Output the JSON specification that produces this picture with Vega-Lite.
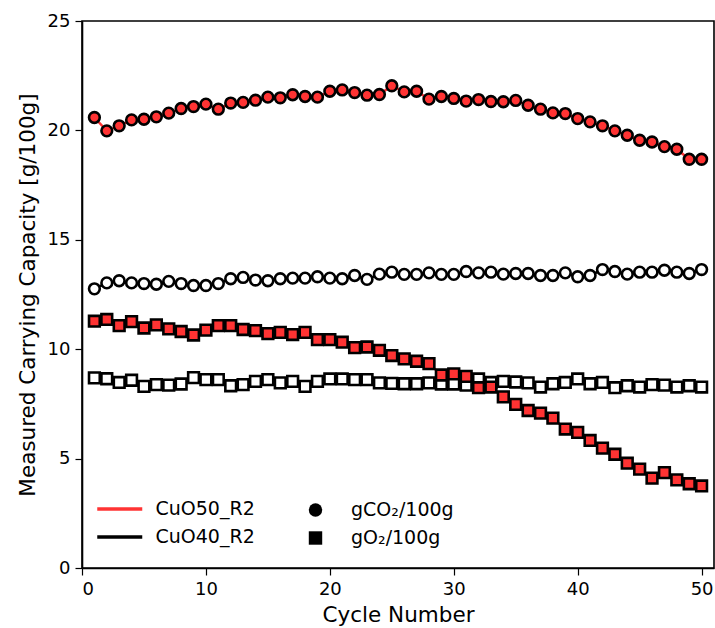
{
  "$schema": "https://vega.github.io/schema/vega-lite/v6.json",
  "width": 632,
  "height": 547,
  "autosize": {"type": "none"},
  "padding": {"left": 82, "top": 21, "right": 1, "bottom": 60},
  "background": "white",
  "config": {
    "view": {"stroke": "black", "strokeWidth": 1.6},
    "font": "DejaVu Sans",
    "axis": {
      "grid": false,
      "domainColor": "black",
      "domainWidth": 1.6,
      "tickColor": "black",
      "tickWidth": 1.2,
      "tickSize": 7,
      "labelFont": "DejaVu Sans",
      "labelFontSize": 18,
      "labelColor": "black",
      "labelPadding": 5,
      "titleFont": "DejaVu Sans",
      "titleFontSize": 21.5,
      "titleFontWeight": "normal",
      "titleColor": "black"
    },
    "legend": {
      "labelFont": "DejaVu Sans",
      "labelFontSize": 19,
      "labelColor": "black"
    }
  },
  "data": {
    "values": [
      {"cycle": 1, "value": 12.76, "sample": "CuO40_R2", "metric": "gCO₂/100g"},
      {"cycle": 2, "value": 13.03, "sample": "CuO40_R2", "metric": "gCO₂/100g"},
      {"cycle": 3, "value": 13.13, "sample": "CuO40_R2", "metric": "gCO₂/100g"},
      {"cycle": 4, "value": 13.03, "sample": "CuO40_R2", "metric": "gCO₂/100g"},
      {"cycle": 5, "value": 13.0, "sample": "CuO40_R2", "metric": "gCO₂/100g"},
      {"cycle": 6, "value": 12.97, "sample": "CuO40_R2", "metric": "gCO₂/100g"},
      {"cycle": 7, "value": 13.1, "sample": "CuO40_R2", "metric": "gCO₂/100g"},
      {"cycle": 8, "value": 13.0, "sample": "CuO40_R2", "metric": "gCO₂/100g"},
      {"cycle": 9, "value": 12.91, "sample": "CuO40_R2", "metric": "gCO₂/100g"},
      {"cycle": 10, "value": 12.91, "sample": "CuO40_R2", "metric": "gCO₂/100g"},
      {"cycle": 11, "value": 13.0, "sample": "CuO40_R2", "metric": "gCO₂/100g"},
      {"cycle": 12, "value": 13.22, "sample": "CuO40_R2", "metric": "gCO₂/100g"},
      {"cycle": 13, "value": 13.28, "sample": "CuO40_R2", "metric": "gCO₂/100g"},
      {"cycle": 14, "value": 13.16, "sample": "CuO40_R2", "metric": "gCO₂/100g"},
      {"cycle": 15, "value": 13.13, "sample": "CuO40_R2", "metric": "gCO₂/100g"},
      {"cycle": 16, "value": 13.22, "sample": "CuO40_R2", "metric": "gCO₂/100g"},
      {"cycle": 17, "value": 13.25, "sample": "CuO40_R2", "metric": "gCO₂/100g"},
      {"cycle": 18, "value": 13.25, "sample": "CuO40_R2", "metric": "gCO₂/100g"},
      {"cycle": 19, "value": 13.31, "sample": "CuO40_R2", "metric": "gCO₂/100g"},
      {"cycle": 20, "value": 13.25, "sample": "CuO40_R2", "metric": "gCO₂/100g"},
      {"cycle": 21, "value": 13.22, "sample": "CuO40_R2", "metric": "gCO₂/100g"},
      {"cycle": 22, "value": 13.37, "sample": "CuO40_R2", "metric": "gCO₂/100g"},
      {"cycle": 23, "value": 13.19, "sample": "CuO40_R2", "metric": "gCO₂/100g"},
      {"cycle": 24, "value": 13.43, "sample": "CuO40_R2", "metric": "gCO₂/100g"},
      {"cycle": 25, "value": 13.52, "sample": "CuO40_R2", "metric": "gCO₂/100g"},
      {"cycle": 26, "value": 13.42, "sample": "CuO40_R2", "metric": "gCO₂/100g"},
      {"cycle": 27, "value": 13.42, "sample": "CuO40_R2", "metric": "gCO₂/100g"},
      {"cycle": 28, "value": 13.49, "sample": "CuO40_R2", "metric": "gCO₂/100g"},
      {"cycle": 29, "value": 13.42, "sample": "CuO40_R2", "metric": "gCO₂/100g"},
      {"cycle": 30, "value": 13.42, "sample": "CuO40_R2", "metric": "gCO₂/100g"},
      {"cycle": 31, "value": 13.55, "sample": "CuO40_R2", "metric": "gCO₂/100g"},
      {"cycle": 32, "value": 13.49, "sample": "CuO40_R2", "metric": "gCO₂/100g"},
      {"cycle": 33, "value": 13.52, "sample": "CuO40_R2", "metric": "gCO₂/100g"},
      {"cycle": 34, "value": 13.43, "sample": "CuO40_R2", "metric": "gCO₂/100g"},
      {"cycle": 35, "value": 13.46, "sample": "CuO40_R2", "metric": "gCO₂/100g"},
      {"cycle": 36, "value": 13.46, "sample": "CuO40_R2", "metric": "gCO₂/100g"},
      {"cycle": 37, "value": 13.37, "sample": "CuO40_R2", "metric": "gCO₂/100g"},
      {"cycle": 38, "value": 13.37, "sample": "CuO40_R2", "metric": "gCO₂/100g"},
      {"cycle": 39, "value": 13.49, "sample": "CuO40_R2", "metric": "gCO₂/100g"},
      {"cycle": 40, "value": 13.31, "sample": "CuO40_R2", "metric": "gCO₂/100g"},
      {"cycle": 41, "value": 13.37, "sample": "CuO40_R2", "metric": "gCO₂/100g"},
      {"cycle": 42, "value": 13.64, "sample": "CuO40_R2", "metric": "gCO₂/100g"},
      {"cycle": 43, "value": 13.55, "sample": "CuO40_R2", "metric": "gCO₂/100g"},
      {"cycle": 44, "value": 13.43, "sample": "CuO40_R2", "metric": "gCO₂/100g"},
      {"cycle": 45, "value": 13.52, "sample": "CuO40_R2", "metric": "gCO₂/100g"},
      {"cycle": 46, "value": 13.52, "sample": "CuO40_R2", "metric": "gCO₂/100g"},
      {"cycle": 47, "value": 13.61, "sample": "CuO40_R2", "metric": "gCO₂/100g"},
      {"cycle": 48, "value": 13.52, "sample": "CuO40_R2", "metric": "gCO₂/100g"},
      {"cycle": 49, "value": 13.46, "sample": "CuO40_R2", "metric": "gCO₂/100g"},
      {"cycle": 50, "value": 13.64, "sample": "CuO40_R2", "metric": "gCO₂/100g"},
      {"cycle": 1, "value": 8.69, "sample": "CuO40_R2", "metric": "gO₂/100g"},
      {"cycle": 2, "value": 8.65, "sample": "CuO40_R2", "metric": "gO₂/100g"},
      {"cycle": 3, "value": 8.48, "sample": "CuO40_R2", "metric": "gO₂/100g"},
      {"cycle": 4, "value": 8.58, "sample": "CuO40_R2", "metric": "gO₂/100g"},
      {"cycle": 5, "value": 8.3, "sample": "CuO40_R2", "metric": "gO₂/100g"},
      {"cycle": 6, "value": 8.38, "sample": "CuO40_R2", "metric": "gO₂/100g"},
      {"cycle": 7, "value": 8.36, "sample": "CuO40_R2", "metric": "gO₂/100g"},
      {"cycle": 8, "value": 8.41, "sample": "CuO40_R2", "metric": "gO₂/100g"},
      {"cycle": 9, "value": 8.7, "sample": "CuO40_R2", "metric": "gO₂/100g"},
      {"cycle": 10, "value": 8.61, "sample": "CuO40_R2", "metric": "gO₂/100g"},
      {"cycle": 11, "value": 8.61, "sample": "CuO40_R2", "metric": "gO₂/100g"},
      {"cycle": 12, "value": 8.33, "sample": "CuO40_R2", "metric": "gO₂/100g"},
      {"cycle": 13, "value": 8.38, "sample": "CuO40_R2", "metric": "gO₂/100g"},
      {"cycle": 14, "value": 8.53, "sample": "CuO40_R2", "metric": "gO₂/100g"},
      {"cycle": 15, "value": 8.61, "sample": "CuO40_R2", "metric": "gO₂/100g"},
      {"cycle": 16, "value": 8.46, "sample": "CuO40_R2", "metric": "gO₂/100g"},
      {"cycle": 17, "value": 8.53, "sample": "CuO40_R2", "metric": "gO₂/100g"},
      {"cycle": 18, "value": 8.3, "sample": "CuO40_R2", "metric": "gO₂/100g"},
      {"cycle": 19, "value": 8.53, "sample": "CuO40_R2", "metric": "gO₂/100g"},
      {"cycle": 20, "value": 8.64, "sample": "CuO40_R2", "metric": "gO₂/100g"},
      {"cycle": 21, "value": 8.64, "sample": "CuO40_R2", "metric": "gO₂/100g"},
      {"cycle": 22, "value": 8.61, "sample": "CuO40_R2", "metric": "gO₂/100g"},
      {"cycle": 23, "value": 8.61, "sample": "CuO40_R2", "metric": "gO₂/100g"},
      {"cycle": 24, "value": 8.46, "sample": "CuO40_R2", "metric": "gO₂/100g"},
      {"cycle": 25, "value": 8.44, "sample": "CuO40_R2", "metric": "gO₂/100g"},
      {"cycle": 26, "value": 8.42, "sample": "CuO40_R2", "metric": "gO₂/100g"},
      {"cycle": 27, "value": 8.42, "sample": "CuO40_R2", "metric": "gO₂/100g"},
      {"cycle": 28, "value": 8.46, "sample": "CuO40_R2", "metric": "gO₂/100g"},
      {"cycle": 29, "value": 8.41, "sample": "CuO40_R2", "metric": "gO₂/100g"},
      {"cycle": 30, "value": 8.41, "sample": "CuO40_R2", "metric": "gO₂/100g"},
      {"cycle": 31, "value": 8.36, "sample": "CuO40_R2", "metric": "gO₂/100g"},
      {"cycle": 32, "value": 8.64, "sample": "CuO40_R2", "metric": "gO₂/100g"},
      {"cycle": 33, "value": 8.48, "sample": "CuO40_R2", "metric": "gO₂/100g"},
      {"cycle": 34, "value": 8.53, "sample": "CuO40_R2", "metric": "gO₂/100g"},
      {"cycle": 35, "value": 8.5, "sample": "CuO40_R2", "metric": "gO₂/100g"},
      {"cycle": 36, "value": 8.46, "sample": "CuO40_R2", "metric": "gO₂/100g"},
      {"cycle": 37, "value": 8.27, "sample": "CuO40_R2", "metric": "gO₂/100g"},
      {"cycle": 38, "value": 8.42, "sample": "CuO40_R2", "metric": "gO₂/100g"},
      {"cycle": 39, "value": 8.48, "sample": "CuO40_R2", "metric": "gO₂/100g"},
      {"cycle": 40, "value": 8.64, "sample": "CuO40_R2", "metric": "gO₂/100g"},
      {"cycle": 41, "value": 8.42, "sample": "CuO40_R2", "metric": "gO₂/100g"},
      {"cycle": 42, "value": 8.48, "sample": "CuO40_R2", "metric": "gO₂/100g"},
      {"cycle": 43, "value": 8.24, "sample": "CuO40_R2", "metric": "gO₂/100g"},
      {"cycle": 44, "value": 8.33, "sample": "CuO40_R2", "metric": "gO₂/100g"},
      {"cycle": 45, "value": 8.27, "sample": "CuO40_R2", "metric": "gO₂/100g"},
      {"cycle": 46, "value": 8.38, "sample": "CuO40_R2", "metric": "gO₂/100g"},
      {"cycle": 47, "value": 8.36, "sample": "CuO40_R2", "metric": "gO₂/100g"},
      {"cycle": 48, "value": 8.27, "sample": "CuO40_R2", "metric": "gO₂/100g"},
      {"cycle": 49, "value": 8.33, "sample": "CuO40_R2", "metric": "gO₂/100g"},
      {"cycle": 50, "value": 8.27, "sample": "CuO40_R2", "metric": "gO₂/100g"},
      {"cycle": 1, "value": 20.59, "sample": "CuO50_R2", "metric": "gCO₂/100g"},
      {"cycle": 2, "value": 19.98, "sample": "CuO50_R2", "metric": "gCO₂/100g"},
      {"cycle": 3, "value": 20.21, "sample": "CuO50_R2", "metric": "gCO₂/100g"},
      {"cycle": 4, "value": 20.48, "sample": "CuO50_R2", "metric": "gCO₂/100g"},
      {"cycle": 5, "value": 20.51, "sample": "CuO50_R2", "metric": "gCO₂/100g"},
      {"cycle": 6, "value": 20.62, "sample": "CuO50_R2", "metric": "gCO₂/100g"},
      {"cycle": 7, "value": 20.79, "sample": "CuO50_R2", "metric": "gCO₂/100g"},
      {"cycle": 8, "value": 21.0, "sample": "CuO50_R2", "metric": "gCO₂/100g"},
      {"cycle": 9, "value": 21.09, "sample": "CuO50_R2", "metric": "gCO₂/100g"},
      {"cycle": 10, "value": 21.2, "sample": "CuO50_R2", "metric": "gCO₂/100g"},
      {"cycle": 11, "value": 20.97, "sample": "CuO50_R2", "metric": "gCO₂/100g"},
      {"cycle": 12, "value": 21.25, "sample": "CuO50_R2", "metric": "gCO₂/100g"},
      {"cycle": 13, "value": 21.28, "sample": "CuO50_R2", "metric": "gCO₂/100g"},
      {"cycle": 14, "value": 21.38, "sample": "CuO50_R2", "metric": "gCO₂/100g"},
      {"cycle": 15, "value": 21.52, "sample": "CuO50_R2", "metric": "gCO₂/100g"},
      {"cycle": 16, "value": 21.49, "sample": "CuO50_R2", "metric": "gCO₂/100g"},
      {"cycle": 17, "value": 21.63, "sample": "CuO50_R2", "metric": "gCO₂/100g"},
      {"cycle": 18, "value": 21.55, "sample": "CuO50_R2", "metric": "gCO₂/100g"},
      {"cycle": 19, "value": 21.52, "sample": "CuO50_R2", "metric": "gCO₂/100g"},
      {"cycle": 20, "value": 21.79, "sample": "CuO50_R2", "metric": "gCO₂/100g"},
      {"cycle": 21, "value": 21.85, "sample": "CuO50_R2", "metric": "gCO₂/100g"},
      {"cycle": 22, "value": 21.73, "sample": "CuO50_R2", "metric": "gCO₂/100g"},
      {"cycle": 23, "value": 21.61, "sample": "CuO50_R2", "metric": "gCO₂/100g"},
      {"cycle": 24, "value": 21.64, "sample": "CuO50_R2", "metric": "gCO₂/100g"},
      {"cycle": 25, "value": 22.04, "sample": "CuO50_R2", "metric": "gCO₂/100g"},
      {"cycle": 26, "value": 21.76, "sample": "CuO50_R2", "metric": "gCO₂/100g"},
      {"cycle": 27, "value": 21.79, "sample": "CuO50_R2", "metric": "gCO₂/100g"},
      {"cycle": 28, "value": 21.43, "sample": "CuO50_R2", "metric": "gCO₂/100g"},
      {"cycle": 29, "value": 21.55, "sample": "CuO50_R2", "metric": "gCO₂/100g"},
      {"cycle": 30, "value": 21.46, "sample": "CuO50_R2", "metric": "gCO₂/100g"},
      {"cycle": 31, "value": 21.34, "sample": "CuO50_R2", "metric": "gCO₂/100g"},
      {"cycle": 32, "value": 21.41, "sample": "CuO50_R2", "metric": "gCO₂/100g"},
      {"cycle": 33, "value": 21.32, "sample": "CuO50_R2", "metric": "gCO₂/100g"},
      {"cycle": 34, "value": 21.31, "sample": "CuO50_R2", "metric": "gCO₂/100g"},
      {"cycle": 35, "value": 21.37, "sample": "CuO50_R2", "metric": "gCO₂/100g"},
      {"cycle": 36, "value": 21.15, "sample": "CuO50_R2", "metric": "gCO₂/100g"},
      {"cycle": 37, "value": 20.97, "sample": "CuO50_R2", "metric": "gCO₂/100g"},
      {"cycle": 38, "value": 20.8, "sample": "CuO50_R2", "metric": "gCO₂/100g"},
      {"cycle": 39, "value": 20.77, "sample": "CuO50_R2", "metric": "gCO₂/100g"},
      {"cycle": 40, "value": 20.54, "sample": "CuO50_R2", "metric": "gCO₂/100g"},
      {"cycle": 41, "value": 20.39, "sample": "CuO50_R2", "metric": "gCO₂/100g"},
      {"cycle": 42, "value": 20.21, "sample": "CuO50_R2", "metric": "gCO₂/100g"},
      {"cycle": 43, "value": 19.98, "sample": "CuO50_R2", "metric": "gCO₂/100g"},
      {"cycle": 44, "value": 19.78, "sample": "CuO50_R2", "metric": "gCO₂/100g"},
      {"cycle": 45, "value": 19.55, "sample": "CuO50_R2", "metric": "gCO₂/100g"},
      {"cycle": 46, "value": 19.47, "sample": "CuO50_R2", "metric": "gCO₂/100g"},
      {"cycle": 47, "value": 19.26, "sample": "CuO50_R2", "metric": "gCO₂/100g"},
      {"cycle": 48, "value": 19.14, "sample": "CuO50_R2", "metric": "gCO₂/100g"},
      {"cycle": 49, "value": 18.68, "sample": "CuO50_R2", "metric": "gCO₂/100g"},
      {"cycle": 50, "value": 18.68, "sample": "CuO50_R2", "metric": "gCO₂/100g"},
      {"cycle": 1, "value": 11.28, "sample": "CuO50_R2", "metric": "gO₂/100g"},
      {"cycle": 2, "value": 11.36, "sample": "CuO50_R2", "metric": "gO₂/100g"},
      {"cycle": 3, "value": 11.08, "sample": "CuO50_R2", "metric": "gO₂/100g"},
      {"cycle": 4, "value": 11.26, "sample": "CuO50_R2", "metric": "gO₂/100g"},
      {"cycle": 5, "value": 10.97, "sample": "CuO50_R2", "metric": "gO₂/100g"},
      {"cycle": 6, "value": 11.11, "sample": "CuO50_R2", "metric": "gO₂/100g"},
      {"cycle": 7, "value": 10.93, "sample": "CuO50_R2", "metric": "gO₂/100g"},
      {"cycle": 8, "value": 10.81, "sample": "CuO50_R2", "metric": "gO₂/100g"},
      {"cycle": 9, "value": 10.65, "sample": "CuO50_R2", "metric": "gO₂/100g"},
      {"cycle": 10, "value": 10.87, "sample": "CuO50_R2", "metric": "gO₂/100g"},
      {"cycle": 11, "value": 11.08, "sample": "CuO50_R2", "metric": "gO₂/100g"},
      {"cycle": 12, "value": 11.08, "sample": "CuO50_R2", "metric": "gO₂/100g"},
      {"cycle": 13, "value": 10.9, "sample": "CuO50_R2", "metric": "gO₂/100g"},
      {"cycle": 14, "value": 10.85, "sample": "CuO50_R2", "metric": "gO₂/100g"},
      {"cycle": 15, "value": 10.71, "sample": "CuO50_R2", "metric": "gO₂/100g"},
      {"cycle": 16, "value": 10.77, "sample": "CuO50_R2", "metric": "gO₂/100g"},
      {"cycle": 17, "value": 10.67, "sample": "CuO50_R2", "metric": "gO₂/100g"},
      {"cycle": 18, "value": 10.77, "sample": "CuO50_R2", "metric": "gO₂/100g"},
      {"cycle": 19, "value": 10.44, "sample": "CuO50_R2", "metric": "gO₂/100g"},
      {"cycle": 20, "value": 10.44, "sample": "CuO50_R2", "metric": "gO₂/100g"},
      {"cycle": 21, "value": 10.32, "sample": "CuO50_R2", "metric": "gO₂/100g"},
      {"cycle": 22, "value": 10.07, "sample": "CuO50_R2", "metric": "gO₂/100g"},
      {"cycle": 23, "value": 10.1, "sample": "CuO50_R2", "metric": "gO₂/100g"},
      {"cycle": 24, "value": 9.95, "sample": "CuO50_R2", "metric": "gO₂/100g"},
      {"cycle": 25, "value": 9.71, "sample": "CuO50_R2", "metric": "gO₂/100g"},
      {"cycle": 26, "value": 9.56, "sample": "CuO50_R2", "metric": "gO₂/100g"},
      {"cycle": 27, "value": 9.45, "sample": "CuO50_R2", "metric": "gO₂/100g"},
      {"cycle": 28, "value": 9.34, "sample": "CuO50_R2", "metric": "gO₂/100g"},
      {"cycle": 29, "value": 8.82, "sample": "CuO50_R2", "metric": "gO₂/100g"},
      {"cycle": 30, "value": 8.87, "sample": "CuO50_R2", "metric": "gO₂/100g"},
      {"cycle": 31, "value": 8.76, "sample": "CuO50_R2", "metric": "gO₂/100g"},
      {"cycle": 32, "value": 8.24, "sample": "CuO50_R2", "metric": "gO₂/100g"},
      {"cycle": 33, "value": 8.27, "sample": "CuO50_R2", "metric": "gO₂/100g"},
      {"cycle": 34, "value": 7.82, "sample": "CuO50_R2", "metric": "gO₂/100g"},
      {"cycle": 35, "value": 7.48, "sample": "CuO50_R2", "metric": "gO₂/100g"},
      {"cycle": 36, "value": 7.2, "sample": "CuO50_R2", "metric": "gO₂/100g"},
      {"cycle": 37, "value": 7.08, "sample": "CuO50_R2", "metric": "gO₂/100g"},
      {"cycle": 38, "value": 6.85, "sample": "CuO50_R2", "metric": "gO₂/100g"},
      {"cycle": 39, "value": 6.35, "sample": "CuO50_R2", "metric": "gO₂/100g"},
      {"cycle": 40, "value": 6.2, "sample": "CuO50_R2", "metric": "gO₂/100g"},
      {"cycle": 41, "value": 5.83, "sample": "CuO50_R2", "metric": "gO₂/100g"},
      {"cycle": 42, "value": 5.48, "sample": "CuO50_R2", "metric": "gO₂/100g"},
      {"cycle": 43, "value": 5.2, "sample": "CuO50_R2", "metric": "gO₂/100g"},
      {"cycle": 44, "value": 4.79, "sample": "CuO50_R2", "metric": "gO₂/100g"},
      {"cycle": 45, "value": 4.52, "sample": "CuO50_R2", "metric": "gO₂/100g"},
      {"cycle": 46, "value": 4.11, "sample": "CuO50_R2", "metric": "gO₂/100g"},
      {"cycle": 47, "value": 4.36, "sample": "CuO50_R2", "metric": "gO₂/100g"},
      {"cycle": 48, "value": 4.03, "sample": "CuO50_R2", "metric": "gO₂/100g"},
      {"cycle": 49, "value": 3.85, "sample": "CuO50_R2", "metric": "gO₂/100g"},
      {"cycle": 50, "value": 3.75, "sample": "CuO50_R2", "metric": "gO₂/100g"}
    ]
  },
  "encoding": {
    "x": {
      "field": "cycle",
      "type": "quantitative",
      "scale": {"domain": [0, 51], "nice": false, "zero": false},
      "axis": {"title": "Cycle Number", "values": [0, 10, 20, 30, 40, 50], "titlePadding": 6}
    },
    "y": {
      "field": "value",
      "type": "quantitative",
      "scale": {"domain": [0, 25], "nice": false},
      "axis": {"title": "Measured Carrying Capacity [g/100g]", "values": [0, 5, 10, 15, 20, 25], "titlePadding": 8}
    }
  },
  "layer": [
    {
      "mark": {"type": "line", "strokeWidth": 2.5},
      "encoding": {
        "color": {
          "field": "sample",
          "type": "nominal",
          "scale": {"domain": ["CuO50_R2", "CuO40_R2"], "range": ["#ff3333", "#000000"]},
          "legend": {
            "title": null,
            "orient": "none",
            "legendX": 26.75,
            "legendY": 477,
            "symbolType": "M-2.5,0H2.5",
            "symbolSize": 324,
            "symbolStrokeWidth": 3.5,
            "labelOffset": 24.75,
            "rowPadding": 7
          }
        },
        "detail": {"field": "metric"}
      }
    },
    {
      "mark": {"type": "point", "filled": true, "size": 115, "stroke": "black", "strokeWidth": 2.6, "opacity": 1},
      "encoding": {
        "fill": {
          "field": "sample",
          "type": "nominal",
          "scale": {"domain": ["CuO50_R2", "CuO40_R2"], "range": ["#ff3333", "#ffffff"]},
          "legend": null
        },
        "shape": {
          "field": "metric",
          "type": "nominal",
          "scale": {"domain": ["gCO₂/100g", "gO₂/100g"], "range": ["circle", "square"]},
          "legend": {
            "title": null,
            "orient": "none",
            "legendX": 224,
            "legendY": 479.5,
            "symbolFillColor": "black",
            "symbolStrokeColor": "black",
            "symbolStrokeWidth": 0,
            "symbolSize": 180,
            "labelOffset": 26,
            "rowPadding": 8
          }
        }
      }
    }
  ]
}
